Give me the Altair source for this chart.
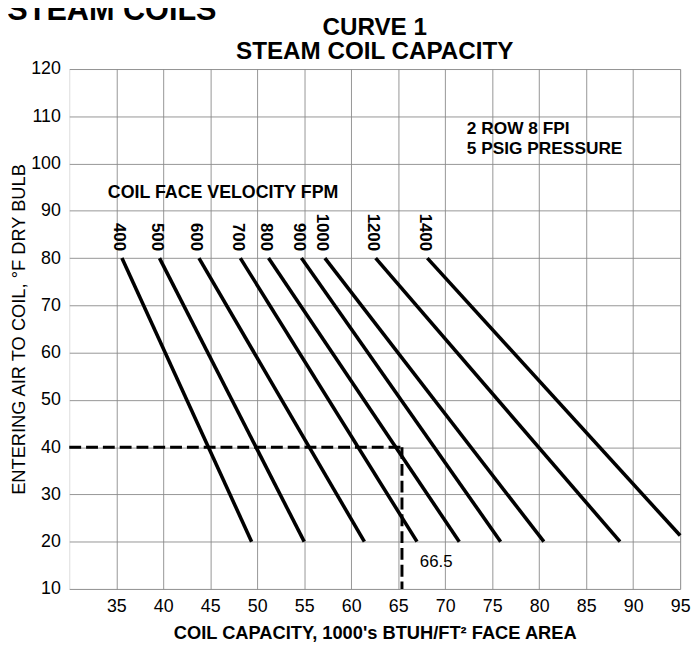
import altair as alt
import pandas as pd

# --- data ---
fpm = ["400", "500", "600", "700", "800", "900", "1000", "1200", "1400"]
x_at_80 = [35.6, 39.6, 43.8, 48.2, 51.2, 54.7, 57.2, 62.6, 68.1]
x_at_20 = [49.4, 55.0, 61.4, 67.0, 71.5, 75.9, 80.5, 88.6, 95.0]
y_end = [20, 20, 20, 20, 20, 20, 20, 20, 21.3]

x_ticks = [35, 40, 45, 50, 55, 60, 65, 70, 75, 80, 85, 90, 95]
y_ticks = [10, 20, 30, 40, 50, 60, 70, 80, 90, 100, 110, 120]

example_temp = 40
example_cap = 65.4
example_label = "66.5"

FONT = "Liberation Sans"

rows = []
for f, xa, xb, ye in zip(fpm, x_at_80, x_at_20, y_end):
    rows.append({"fpm": f, "x": xa, "y": 80, "o": 0})
    rows.append({"fpm": f, "x": xb, "y": ye, "o": 1})
lines_df = pd.DataFrame(rows)

xs = alt.Scale(domain=[30, 95], nice=False, zero=False)
ys = alt.Scale(domain=[10, 120], nice=False, zero=False)

X = alt.X("x:Q", scale=xs, axis=alt.Axis(
    values=x_ticks, title="COIL CAPACITY, 1000's BTUH/FT² FACE AREA",
    grid=True, gridColor="#8a8a8a", gridWidth=0.9, domain=False, ticks=False,
    labelFont=FONT, labelFontSize=18, labelColor="black", labelPadding=9,
    labelFlush=False, labelOverlap=False,
    titleFont=FONT, titleFontSize=18.5, titleFontWeight="bold", titleColor="black",
    titlePadding=8))
Y = alt.Y("y:Q", scale=ys, axis=alt.Axis(
    values=y_ticks, title="ENTERING AIR TO COIL, °F DRY BULB",
    grid=True, gridColor="#8a8a8a", gridWidth=0.9, domain=False, ticks=False,
    labelFont=FONT, labelFontSize=18, labelColor="black", labelPadding=9,
    labelOverlap=False,
    titleFont=FONT, titleFontSize=18.5, titleFontWeight="normal", titleColor="black",
    titlePadding=2))

base_lines = alt.Chart(lines_df).mark_line(color="black", strokeWidth=3.6).encode(
    x=X, y=Y, detail="fpm:N", order="o:Q")

lab_df = pd.DataFrame({"fpm": fpm, "x": [v - 0.3 for v in x_at_80], "y": [81.5] * len(fpm)})
labels = alt.Chart(lab_df).mark_text(
    angle=90, align="right", baseline="middle", font=FONT, fontSize=17,
    fontWeight="bold", color="black").encode(
    x=alt.X("x:Q", scale=xs), y=alt.Y("y:Q", scale=ys), text="fpm:N")

hdash_df = pd.DataFrame({"x": [30, example_cap], "y": [example_temp, example_temp]})
vdash_df = pd.DataFrame({"x": [example_cap, example_cap], "y": [example_temp, 10]})
hdash = alt.Chart(hdash_df).mark_line(color="black", strokeWidth=3, strokeDash=[12, 5]).encode(
    x=alt.X("x:Q", scale=xs), y=alt.Y("y:Q", scale=ys))
vdash = alt.Chart(vdash_df).mark_line(color="black", strokeWidth=3, strokeDash=[12, 5]).encode(
    x=alt.X("x:Q", scale=xs), y=alt.Y("y:Q", scale=ys))

def note(df, size, weight, align="left", baseline="middle"):
    return alt.Chart(df).mark_text(align=align, baseline=baseline, font=FONT,
                                   fontSize=size, fontWeight=weight, color="black").encode(
        x=alt.X("x:Q", scale=xs), y=alt.Y("y:Q", scale=ys), text="t:N")

ex_df = pd.DataFrame({"x": [67.3], "y": [15.6], "t": [example_label]})
vel_df = pd.DataFrame({"x": [34.1], "y": [93.8], "t": ["COIL FACE VELOCITY FPM"]})
spec_df = pd.DataFrame({"x": [72.3, 72.3], "y": [107.4, 103.1],
                        "t": ["2 ROW 8 FPI", "5 PSIG PRESSURE"]})
title_df = pd.DataFrame({"x": [62.5, 62.5], "y": [127.3, 122.2],
                         "t": ["CURVE 1", "STEAM COIL CAPACITY"]})
head_df = pd.DataFrame({"x": [23.4], "y": [130.3], "t": ["STEAM COILS"]})

chart = alt.layer(
    base_lines, hdash, vdash, labels,
    note(ex_df, 17, "normal"),
    note(vel_df, 18, "bold"),
    note(spec_df, 17.5, "bold"),
    note(title_df, 24.5, "bold", align="center", baseline="alphabetic"),
    note(head_df, 31, "bold", baseline="alphabetic"),
).properties(
    width=618, height=526,
    autosize=alt.AutoSizeParams(type="none"),
    padding={"left": 62, "top": 58, "right": 12, "bottom": 56},
).configure_view(stroke="black", strokeWidth=2.2).configure(background="white")

chart.save("out.html", embed_options={"renderer": "svg", "actions": False})
